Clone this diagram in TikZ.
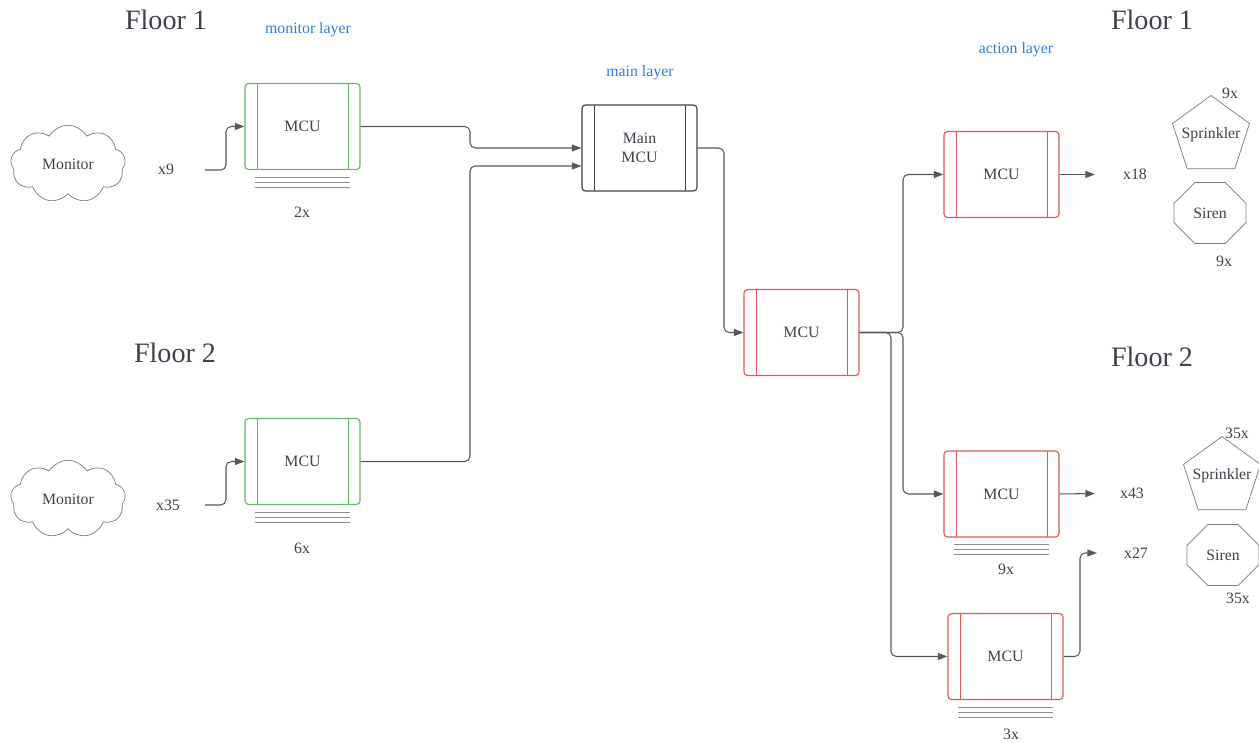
\documentclass[tikz,border=0pt]{standalone}
\usepackage{fontspec}
\setmainfont{Liberation Serif}
\usetikzlibrary{arrows.meta,positioning,shapes.geometric,shapes.symbols,shapes.misc,calc}

\definecolor{inkgray}{RGB}{62,64,74}
\definecolor{linegray}{RGB}{85,87,97}
\definecolor{stackgray}{RGB}{140,140,145}
\definecolor{mongreen}{RGB}{100,185,100}
\definecolor{actred}{RGB}{228,85,90}
\definecolor{layerblue}{RGB}{45,125,220}

\tikzset{
  mcu/.style={draw=#1, line width=0.65pt, rounded corners=2pt, minimum width=2.3cm, minimum height=1.72cm,
    text=inkgray, font=\fontsize{9}{11}\selectfont, align=center,
    path picture={\draw[#1, line width=0.45pt]
      ([xshift=0.24cm]path picture bounding box.north west) -- ([xshift=0.24cm]path picture bounding box.south west)
      ([xshift=-0.24cm]path picture bounding box.north east) -- ([xshift=-0.24cm]path picture bounding box.south east);}},
  mcu/.default=inkgray,
  monitor/.style={cloud, cloud puffs=9, cloud puff arc=120, aspect=1.5, draw=linegray!80,
    minimum width=2.3cm, minimum height=1.55cm, text=inkgray, font=\fontsize{9}{11}\selectfont},
  sprinkler/.style={regular polygon, regular polygon sides=5, draw=linegray!80, minimum size=1.62cm,
    inner sep=0pt, text=inkgray, font=\fontsize{9}{11}\selectfont},
  siren/.style={chamfered rectangle, chamfered rectangle xsep=0.44cm, chamfered rectangle ysep=0.31cm,
    draw=linegray!80, minimum width=1.44cm, minimum height=1.22cm, inner sep=0pt,
    text=inkgray, font=\fontsize{9}{11}\selectfont},
  conn/.style={draw=linegray, line width=0.6pt, rounded corners=3pt, -{Triangle[length=5.5pt,width=4pt]}},
  stackline/.style={draw=stackgray, line width=0.6pt},
  floorlabel/.style={text=inkgray, font=\fontsize{16}{19}\selectfont},
  layerlabel/.style={text=layerblue, font=\fontsize{9}{11}\selectfont},
  countlabel/.style={text=inkgray, font=\fontsize{9}{11}\selectfont},
}

% three lines under a box
\newcommand{\mcustack}[1]{%
  \foreach \k in {0,1,2}
    \draw[stackline] ([xshift=0.22cm,yshift={-0.14cm-0.1cm*\k}]#1.south west)
      -- ([xshift=-0.22cm,yshift={-0.14cm-0.1cm*\k}]#1.south east);}

\begin{document}
\begin{tikzpicture}[x=0.02cm, y=-0.02cm, line join=round]
\useasboundingbox (0,0) rectangle (1259,743);
% headings
\node[floorlabel] (fl1) at (166,20) {Floor 1};
\node[floorlabel] (fl2) at (175,353) {Floor 2};
\node[floorlabel] (fr1) at (1152,20) {Floor 1};
\node[floorlabel] (fr2) at (1152,357) {Floor 2};
\node[layerlabel] (lmon) at (308,30) {monitor layer};
\node[layerlabel] (lmain) at (640,73) {main layer};
\node[layerlabel] (lact) at (1016,50) {action layer};

% monitor layer
\node[monitor] (mon1) at (68,164) {Monitor};
\node[monitor] (mon2) at (68,499) {Monitor};
\node[countlabel] (c9) at (166,169) {x9};
\node[countlabel] (c35) at (168,505) {x35};
\coordinate (in9) at (205,170);
\coordinate (in35) at (205,505);
\node[mcu=mongreen] (mcu1) at (302.5,126.5) {MCU};
\node[mcu=mongreen] (mcu2) at (302.5,461.5) {MCU};
\mcustack{mcu1}
\mcustack{mcu2}
\node[countlabel] (n2) at (302,212) {2x};
\node[countlabel] (n6) at (302,548) {6x};

% main layer
\node[mcu] (main) at (639.5,148) {Main\\MCU};
\node[mcu=actred] (mcu3) at (801.5,332.5) {MCU};

% action layer
\node[mcu=actred] (mcu4) at (1001.5,174.5) {MCU};
\node[mcu=actred] (mcu5) at (1001.5,494) {MCU};
\node[mcu=actred] (mcu6) at (1005.5,656.5) {MCU};
\mcustack{mcu5}
\mcustack{mcu6}
\node[countlabel] (n9) at (1006,569) {9x};
\node[countlabel] (n3) at (1011,734) {3x};
\coordinate (out18) at (1095,174.5);
\coordinate (out43) at (1095,493.5);
\coordinate (out27) at (1097,553);
\node[countlabel] (c18) at (1135,174) {x18};
\node[countlabel] (c43) at (1132,493) {x43};
\node[countlabel] (c27) at (1136,553) {x27};

% actuators
\node[sprinkler] (spr1) at (1211,136) {\makebox[0pt]{\raisebox{3pt}{Sprinkler}}};
\node[siren] (sir1) at (1210,213) {Siren};
\node[sprinkler] (spr2) at (1222,477) {\makebox[0pt]{\raisebox{3pt}{Sprinkler}}};
\node[siren] (sir2) at (1223,555) {Siren};
\node[countlabel] (s9a) at (1230,93) {9x};
\node[countlabel] (s9b) at (1224,261) {9x};
\node[countlabel] (s35a) at (1237,433) {35x};
\node[countlabel] (s35b) at (1238,598) {35x};

% connectors
\draw[conn] (in9) -- (226,170) |- (mcu1.west);
\draw[conn] (in35) -- (226,505) |- (mcu2.west);
\draw[conn] (mcu1.east) -- (470,126.5) |- (main.west);
\draw[conn] (mcu2.east) -- (470,461.5) |- ([yshift=-0.36cm]main.west);
\draw[conn] (main.east) -- (724,148) |- (mcu3.west);
\draw[conn] (mcu3.east) -- (903,332.5) |- (mcu4.west);
\draw[conn] (mcu3.east) -- (903,332.5) |- (mcu5.west);
\draw[conn] (mcu3.east) -- (891,332.5) |- (mcu6.west);
\draw[conn] (mcu4.east) -- (out18);
\draw[conn] (mcu5.east) -- (out43);
\draw[conn] (mcu6.east) -- (1080,656.5) |- (out27);
\end{tikzpicture}
\end{document}
